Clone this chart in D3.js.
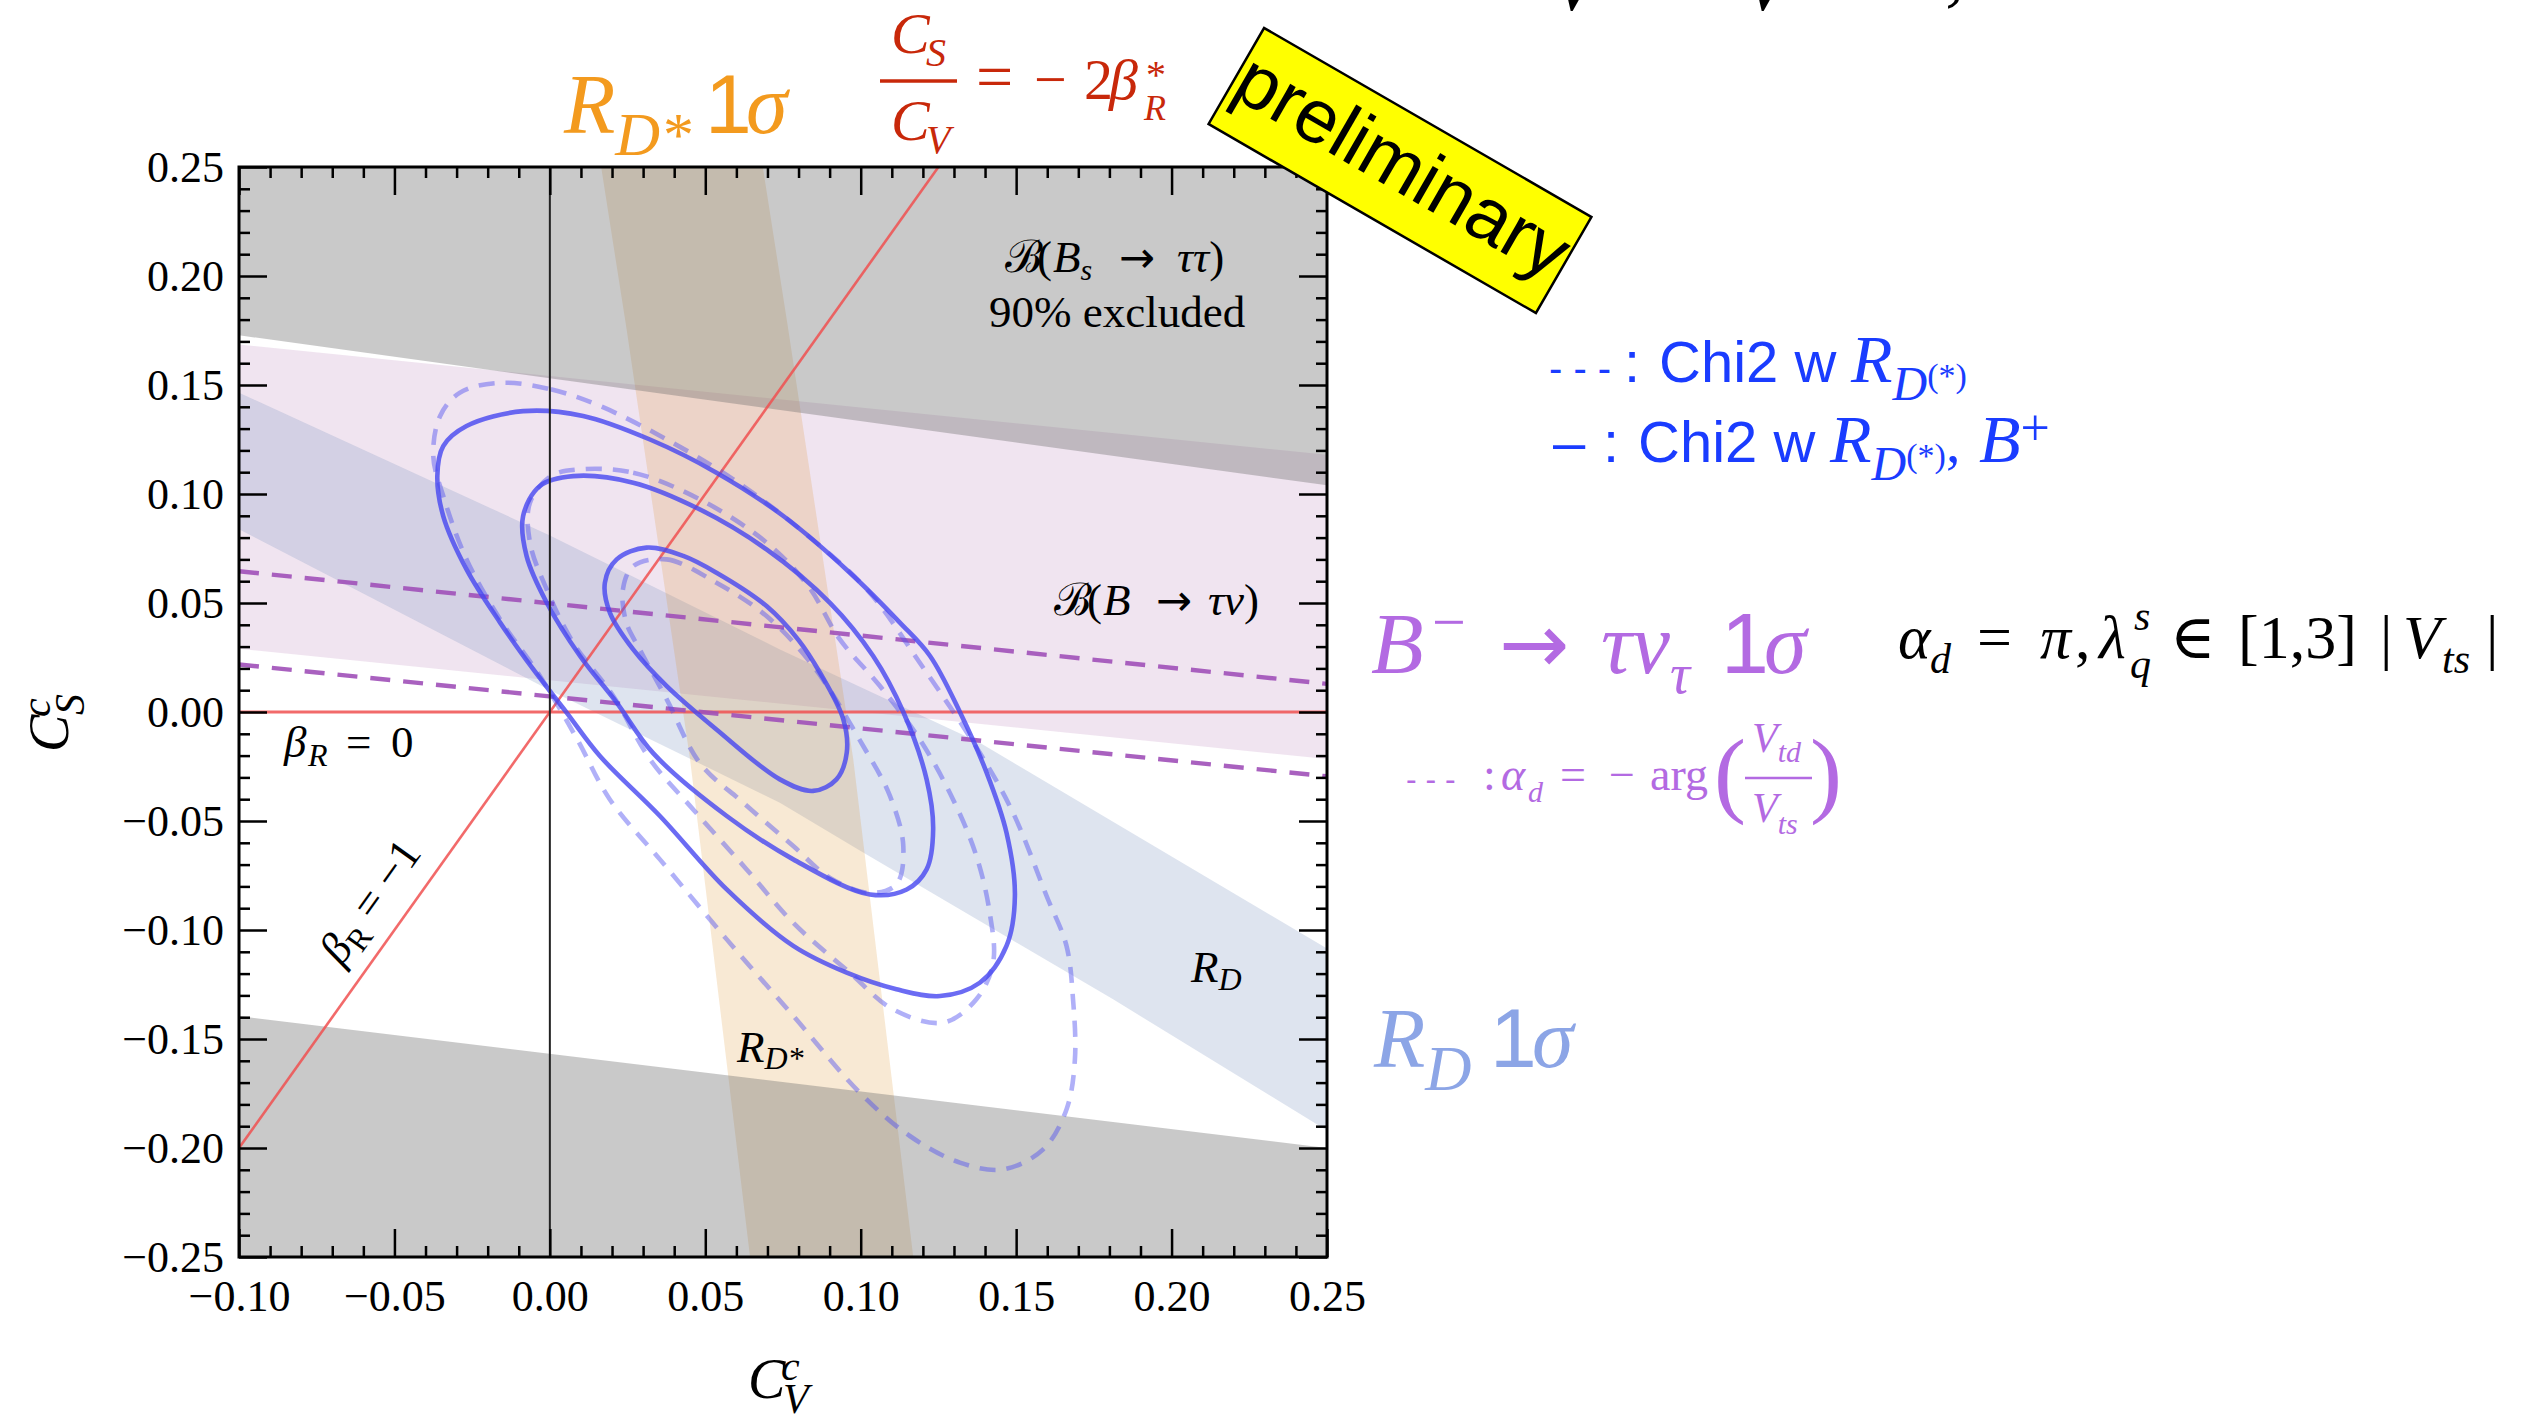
<!DOCTYPE html>
<html>
<head>
<meta charset="utf-8">
<script src="https://cdn.jsdelivr.net/npm/d3@7"></script>
<style>
  html, body { margin: 0; padding: 0; background: #fff; }
  svg { display: block; }
</style>
</head>
<body>
<svg id="chart" width="2534" height="1420"></svg>
<script>
// ---------- axis ticks ----------
const xMajorTicks = [-0.10, -0.05, 0.00, 0.05, 0.10, 0.15, 0.20, 0.25];
const yMajorTicks = [-0.25, -0.20, -0.15, -0.10, -0.05, 0.00, 0.05, 0.10, 0.15, 0.20, 0.25];
const minorStep = 0.01;

// ---------- constraint bands (C_V, C_S) ----------
// B_s -> tau tau 90% excluded: boundary of the upper and lower grey regions
const bsTauTauUpperEdge = [[-0.10, 0.1728], [0.25, 0.104]];
const bsTauTauLowerEdge = [[-0.10, -0.1395], [0.25, -0.200]];
// B -> tau nu 1 sigma band
const bTauNuUpper = [[-0.10, 0.1686], [0.25, 0.118]];
const bTauNuLower = [[-0.10, 0.029], [0.25, -0.0216]];
// R_D 1 sigma band
const rdUpper = [[-0.10, 0.1465], [0.00, 0.081], [0.074, 0.0287], [0.1383, -0.0141], [0.2413, -0.1012], [0.25, -0.1085]];
const rdLower = [[-0.10, 0.0838], [0.00, 0.010], [0.074, -0.0416], [0.1008, -0.0645], [0.1812, -0.1318], [0.25, -0.192]];
// R_D* 1 sigma band (left and right edges, top to bottom)
const rdStarLeft  = [[0.0165, 0.25], [0.0247, 0.1755], [0.0451, -0.0217], [0.0644, -0.25]];
const rdStarRight = [[0.0685, 0.25], [0.0767, 0.1755], [0.0976, -0.0217], [0.1169, -0.25]];

// alpha_d = -arg(V_td/V_ts) boundaries of B -> tau nu
const alphaDUpper = [[-0.10, 0.0646], [0.25, 0.0129]];
const alphaDLower = [[-0.10, 0.0218], [0.25, -0.0295]];

// reference lines
const betaR0Line  = [[-0.10, 0.0], [0.25, 0.0]];
const betaRm1Line = [[-0.10, -0.20], [0.125, 0.25]];
const cvZeroLine  = [[0.0, -0.25], [0.0, 0.25]];

// ---------- chi2 contours ----------
// with R_D(*) and B+ (solid)
const solidOuter = [[-0.0086,0.138],[0.0107,0.1358],[0.0322,0.125],[0.0536,0.1098],[0.0751,0.0899],[0.0965,0.0639],
  [0.1126,0.041],[0.1223,0.0257],[0.1319,0.0],[0.1405,-0.0278],[0.1469,-0.0554],[0.1496,-0.0844],[0.1469,-0.1073],
  [0.1383,-0.1242],[0.1255,-0.1303],[0.1115,-0.1272],[0.0955,-0.1196],[0.0783,-0.1073],[0.0569,-0.0814],[0.0354,-0.0477],
  [0.0161,-0.0202],[0.0054,-0.0003],[-0.0053,0.0195],[-0.016,0.041],[-0.0268,0.0654],[-0.0343,0.0899],[-0.0362,0.1083],
  [-0.0343,0.122],[-0.0268,0.1312]];
const solidMiddle = [[0.0075,0.1082],[0.0268,0.1052],[0.0483,0.0929],[0.0697,0.0746],[0.0901,0.0501],[0.104,0.0257],
  [0.1137,0.0],[0.1212,-0.0309],[0.1233,-0.0539],[0.1212,-0.0722],[0.1148,-0.0814],[0.103,-0.0837],[0.0783,-0.0676],
  [0.0569,-0.0477],[0.0333,-0.019],[0.0215,0.0043],[0.0097,0.0257],[-0.001,0.0501],[-0.0075,0.0716],[-0.0086,0.0899],
  [-0.0032,0.1037]];
const solidInner = [[0.0311,0.0754],[0.0429,0.0716],[0.0536,0.0639],[0.0697,0.0486],[0.080,0.033],[0.0869,0.018],
  [0.0944,-0.0034],[0.0955,-0.0187],[0.0922,-0.0309],[0.0847,-0.0362],[0.0740,-0.0309],[0.0536,-0.008],[0.0376,0.0119],
  [0.0268,0.0287],[0.0193,0.0456],[0.0177,0.0593],[0.0215,0.070]];
// with R_D(*) only (dashed)
const dashedOuter = [[-0.016,0.151],[0.0003,0.148],[0.0161,0.1404],[0.0376,0.125],[0.059,0.1067],[0.0805,0.0838],
  [0.102,0.0562],[0.119,0.0226],[0.1383,-0.0187],[0.149,-0.0462],[0.1598,-0.0844],[0.1662,-0.1073],[0.1683,-0.1318],
  [0.1689,-0.1594],[0.1662,-0.1823],[0.1587,-0.2006],[0.1458,-0.2098],[0.1319,-0.2067],[0.1158,-0.1945],[0.0997,-0.1746],
  [0.0783,-0.1394],[0.0569,-0.1043],[0.0354,-0.0676],[0.0193,-0.0401],[0.0086,-0.012],[-0.0032,0.0165],[-0.016,0.0425],
  [-0.0268,0.070],[-0.0343,0.0991],[-0.0375,0.1174],[-0.0353,0.1358],[-0.0289,0.1465]];
const dashedMiddle = [[0.0097,0.1113],[0.0268,0.1098],[0.0483,0.0975],[0.0697,0.0777],[0.0830,0.058],[0.0933,0.0333],
  [0.1062,0.0119],[0.119,-0.0126],[0.1297,-0.0401],[0.1372,-0.066],[0.1415,-0.0921],[0.1426,-0.115],[0.1372,-0.1318],
  [0.1265,-0.1425],[0.1104,-0.1364],[0.0965,-0.1196],[0.0783,-0.0967],[0.0633,-0.0722],[0.0461,-0.0447],[0.0322,-0.0217],
  [0.0204,0.0073],[0.0075,0.0318],[-0.001,0.0562],[-0.0064,0.0777],[-0.0064,0.096],[0.0003,0.1082]];
const dashedInner = [[0.0268,0.0669],[0.0376,0.070],[0.0536,0.0593],[0.0697,0.044],[0.0847,0.0211],[0.1008,-0.0156],
  [0.1094,-0.0385],[0.1137,-0.0615],[0.1115,-0.079],[0.103,-0.083],[0.090,-0.076],[0.0783,-0.0615],[0.0622,-0.0416],
  [0.0483,-0.0235],[0.0376,0.0058],[0.0289,0.0287],[0.0246,0.041],[0.0235,0.0562]];

// ---------- setup ----------
const SERIF = '"Liberation Serif","Times New Roman","DejaVu Serif",serif';
const SANS = '"Liberation Sans",Arial,"DejaVu Sans",sans-serif';
const ARROW = '"DejaVu Sans",sans-serif';
const svg = d3.select("#chart");
const x = d3.scaleLinear().domain([-0.1, 0.25]).range([239, 1327]);
const y = d3.scaleLinear().domain([-0.25, 0.25]).range([1257, 167]);

svg.append("defs").append("clipPath").attr("id", "plotClip").append("rect")
  .attr("x", x(-0.1)).attr("y", y(0.25))
  .attr("width", x(0.25) - x(-0.1)).attr("height", y(-0.25) - y(0.25));

const line = d3.line().x(d => x(d[0])).y(d => y(d[1]));
const closed = d3.line().x(d => x(d[0])).y(d => y(d[1])).curve(d3.curveCatmullRomClosed.alpha(0.5));
const band = (a, b) => line(a.concat(b.slice().reverse())) + "Z";

const plot = svg.append("g").attr("clip-path", "url(#plotClip)");

// bands
plot.append("path").attr("d", band(bTauNuUpper, bTauNuLower))
  .attr("fill", "rgb(155,75,155)").attr("fill-opacity", 0.15);
plot.append("path").attr("d", band(rdUpper, rdLower))
  .attr("fill", "rgb(123,147,191)").attr("fill-opacity", 0.25);
plot.append("path").attr("d", band(rdStarLeft, rdStarRight))
  .attr("fill", "rgb(220,145,40)").attr("fill-opacity", 0.2);

// excluded regions
plot.append("path").attr("d", line(bsTauTauUpperEdge.concat([[0.25, 0.25], [-0.1, 0.25]])) + "Z")
  .attr("fill", "rgb(109,109,109)").attr("fill-opacity", 0.37);
plot.append("path").attr("d", line(bsTauTauLowerEdge.concat([[0.25, -0.25], [-0.1, -0.25]])) + "Z")
  .attr("fill", "rgb(109,109,109)").attr("fill-opacity", 0.37);

// beta_R lines
[betaR0Line, betaRm1Line].forEach((l, i) => {
  plot.append("path").attr("d", line(l)).attr("fill", "none")
    .attr("stroke", "#f05050").attr("stroke-opacity", 0.85).attr("stroke-width", i === 0 ? 3.2 : 2.6);
});

// alpha_d dashed lines
[alphaDUpper, alphaDLower].forEach(l => {
  plot.append("path").attr("d", line(l)).attr("fill", "none")
    .attr("stroke", "#a050b8").attr("stroke-opacity", 0.9)
    .attr("stroke-width", 4.4).attr("stroke-dasharray", "20 13");
});

// contours
[dashedOuter, dashedMiddle, dashedInner].forEach(c => {
  plot.append("path").attr("d", closed(c)).attr("fill", "none")
    .attr("stroke", "rgb(80,80,240)").attr("stroke-opacity", 0.45)
    .attr("stroke-width", 4.6).attr("stroke-dasharray", "16 11");
});
[solidOuter, solidMiddle, solidInner].forEach(c => {
  plot.append("path").attr("d", closed(c)).attr("fill", "none")
    .attr("stroke", "rgb(70,70,240)").attr("stroke-opacity", 0.8).attr("stroke-width", 4.6);
});

// C_V = 0 line
plot.append("path").attr("d", line(cvZeroLine)).attr("stroke", "#222").attr("stroke-width", 2);

// ---------- axes ----------
const fmt = d3.format(".2f");
const minorX = d3.range(-10, 26).map(i => i * minorStep).filter(v => !xMajorTicks.some(t => Math.abs(t - v) < 1e-9));
const minorY = d3.range(-25, 26).map(i => i * minorStep).filter(v => !yMajorTicks.some(t => Math.abs(t - v) < 1e-9));

function styleAxis(g) {
  g.select(".domain").remove();
  g.selectAll(".tick line").attr("stroke", "#000").attr("stroke-width", 2.5);
  g.selectAll("text").attr("font-family", SERIF).attr("font-size", 44).attr("fill", "#000");
}
const axes = svg.append("g");
const bottomY = y(-0.25), topY = y(0.25), leftX = x(-0.1), rightX = x(0.25);
axes.append("g").attr("transform", `translate(0,${bottomY})`)
  .call(d3.axisBottom(x).tickValues(xMajorTicks).tickSize(-28).tickPadding(23).tickFormat(fmt)).call(styleAxis);
axes.append("g").attr("transform", `translate(0,${bottomY})`)
  .call(d3.axisBottom(x).tickValues(minorX).tickSize(-11).tickFormat(() => "")).call(styleAxis);
axes.append("g").attr("transform", `translate(0,${topY})`)
  .call(d3.axisTop(x).tickValues(xMajorTicks).tickSize(-28).tickFormat(() => "")).call(styleAxis);
axes.append("g").attr("transform", `translate(0,${topY})`)
  .call(d3.axisTop(x).tickValues(minorX).tickSize(-11).tickFormat(() => "")).call(styleAxis);
axes.append("g").attr("transform", `translate(${leftX},0)`)
  .call(d3.axisLeft(y).tickValues(yMajorTicks).tickSize(-28).tickPadding(15).tickFormat(fmt)).call(styleAxis);
axes.append("g").attr("transform", `translate(${leftX},0)`)
  .call(d3.axisLeft(y).tickValues(minorY).tickSize(-11).tickFormat(() => "")).call(styleAxis);
axes.append("g").attr("transform", `translate(${rightX},0)`)
  .call(d3.axisRight(y).tickValues(yMajorTicks).tickSize(-28).tickFormat(() => "")).call(styleAxis);
axes.append("g").attr("transform", `translate(${rightX},0)`)
  .call(d3.axisRight(y).tickValues(minorY).tickSize(-11).tickFormat(() => "")).call(styleAxis);
axes.append("rect").attr("x", leftX).attr("y", topY)
  .attr("width", rightX - leftX).attr("height", bottomY - topY)
  .attr("fill", "none").attr("stroke", "#000").attr("stroke-width", 3);

// ---------- text helper ----------
function mtext(parent, px, py, parts, opt) {
  const t = parent.append("text").attr("x", px).attr("y", py)
    .attr("font-family", opt.ff || SERIF).attr("font-size", opt.size)
    .attr("fill", opt.fill || "#000").style("white-space", "pre");
  if (opt.anchor) t.attr("text-anchor", opt.anchor);
  if (opt.transform) t.attr("transform", opt.transform);
  let cur = 0;
  parts.forEach(p => {
    const s = t.append("tspan").text(p.t);
    const sh = p.sh || 0;
    if (sh !== cur) { s.attr("dy", sh - cur); cur = sh; }
    if (p.x !== undefined) s.attr("x", p.x);
    if (p.s) s.attr("font-size", p.s);
    if (p.i) s.attr("font-style", "italic");
    if (p.f) s.attr("font-family", p.f);
  });
  return t;
}
const labels = svg.append("g");

// axis titles
mtext(labels, 748, 1398, [{t: "C", i: 1}, {t: "c", i: 1, s: 42, sh: -18, x: 781}, {t: "V", i: 1, s: 42, sh: 15, x: 783}], {size: 56});
mtext(labels, 0, 0, [{t: "C", i: 1}, {t: "c", i: 1, s: 42, sh: -18, x: 35}, {t: "S", i: 1, s: 42, sh: 16, x: 37}],
  {size: 56, transform: "translate(68,752) rotate(-90)"});

// in-plot labels
mtext(labels, 1005, 272, [{t: "ℬ"}, {t: "(", x: 1037}, {t: "B", i: 1, x: 1053}, {t: "s", i: 1, s: 30, sh: 8},
  {t: "→", sh: 0, x: 1119, f: ARROW, s: 43}, {t: "ττ", i: 1, x: 1177}, {t: ")"}], {size: 45});
mtext(labels, 989, 327, [{t: "90% excluded"}], {size: 45});
mtext(labels, 1054, 615, [{t: "ℬ"}, {t: "(", x: 1087}, {t: "B", i: 1, x: 1103}, {t: "→", x: 1156, f: ARROW, s: 43},
  {t: "τν", i: 1, x: 1208}, {t: ")"}], {size: 45});
mtext(labels, 284, 757, [{t: "β", i: 1}, {t: "R", i: 1, s: 32, sh: 9, x: 308}, {t: "=", sh: 0, x: 346}, {t: "0", x: 391}], {size: 45});
mtext(labels, 0, 0, [{t: "β", i: 1}, {t: "R", s: 32, sh: 9}, {t: " = −1", sh: 0}],
  {size: 45, anchor: "middle", transform: "translate(382,910) rotate(-54.5)"});
mtext(labels, 737, 1062, [{t: "R", i: 1}, {t: "D*", i: 1, s: 32, sh: 7}], {size: 45});
mtext(labels, 1191, 982, [{t: "R", i: 1}, {t: "D", i: 1, s: 32, sh: 8}], {size: 45});

// top annotations
mtext(labels, 564, 133, [{t: "R", i: 1}, {t: "D*", i: 1, s: 62, sh: 22}, {t: "1", f: SANS, x: 705, sh: 0}, {t: "σ", i: 1, x: 746}],
  {size: 84, fill: "#f39a1e"});
const RED = "#c8280a";
mtext(labels, 891, 53, [{t: "C", i: 1}, {t: "S", i: 1, s: 40, sh: 13, x: 926}], {size: 58, fill: RED});
labels.append("line").attr("x1", 880).attr("x2", 957).attr("y1", 81).attr("y2", 81).attr("stroke", RED).attr("stroke-width", 3.5);
mtext(labels, 891, 140, [{t: "C", i: 1}, {t: "V", i: 1, s: 40, sh: 13, x: 926}], {size: 58, fill: RED});
mtext(labels, 976, 99, [{t: "=", s: 66}, {t: "−", x: 1034}, {t: "2", x: 1084}, {t: "β", i: 1, x: 1109}], {size: 58, fill: RED});
mtext(labels, 1146, 88, [{t: "*"}], {size: 40, fill: RED});
mtext(labels, 1144, 120, [{t: "R", i: 1}], {size: 36, fill: RED});

// cut-off text at the page top
mtext(labels, 1550, 10, [{t: "V", i: 1}], {size: 80});
mtext(labels, 1741, 10, [{t: "V", i: 1}], {size: 80});
mtext(labels, 1945, -4, [{t: ","}], {size: 80});

// preliminary tag
const tag = svg.append("g").attr("transform", "translate(1400,170.5) rotate(30)");
tag.append("rect").attr("x", -189).attr("y", -55.5).attr("width", 378).attr("height", 111)
  .attr("fill", "#ffff00").attr("stroke", "#000").attr("stroke-width", 2.5);
tag.append("text").attr("x", 0).attr("y", 20).attr("text-anchor", "middle")
  .attr("font-family", SANS).attr("font-size", 76).attr("fill", "#000").text("preliminary");

// legend
const BLUE = "#1a3cff";
mtext(labels, 1549, 382, [{t: "- - -", s: 40, f: SANS}, {t: ":", x: 1624, f: SANS}, {t: "Chi2 w", x: 1659, f: SANS},
  {t: "R", x: 1851, i: 1, s: 68}, {t: "D", i: 1, s: 48, sh: 18}, {t: "(*)", s: 34, sh: 5}], {size: 58, fill: BLUE});
mtext(labels, 1553, 462, [{t: "–", f: SANS}, {t: ":", x: 1603, f: SANS}, {t: "Chi2 w", x: 1638, f: SANS},
  {t: "R", x: 1830, i: 1, s: 68}, {t: "D", i: 1, s: 48, sh: 18}, {t: "(*)", s: 34, sh: 5}, {t: ",", sh: 0},
  {t: "B", x: 1979, i: 1, s: 68}, {t: "+", s: 52, sh: -17}], {size: 58, fill: BLUE});

// B -> tau nu label
const PURPLE = "#b36ae2";
mtext(labels, 1371, 673, [{t: "B", i: 1}, {t: "−", s: 60, sh: -31, x: 1432}, {t: "→", x: 1499, sh: 0, f: ARROW, s: 84},
  {t: "τν", i: 1, x: 1601}, {t: "τ", i: 1, s: 56, sh: 20}, {t: "1", f: SANS, x: 1721, sh: 0}, {t: "σ", i: 1, x: 1764}],
  {size: 86, fill: PURPLE});
mtext(labels, 1898, 658, [{t: "α", i: 1}, {t: "d", i: 1, s: 42, sh: 15, x: 1930}, {t: "=", sh: 0, x: 1977},
  {t: "π", i: 1, x: 2040}, {t: ",", x: 2075}, {t: "λ", i: 1, x: 2099}, {t: "s", i: 1, s: 42, sh: -28, x: 2134},
  {t: "q", i: 1, s: 42, sh: 20, x: 2130}, {t: "∈", sh: 0, x: 2170}, {t: "[1,3]", x: 2238}, {t: "|", x: 2380},
  {t: "V", i: 1, x: 2403}, {t: "ts", i: 1, s: 42, sh: 15, x: 2442}, {t: "|", sh: 0, x: 2486}], {size: 62});
mtext(labels, 1406, 790, [{t: "- - -", s: 32, f: SANS}, {t: ":", x: 1483}, {t: "α", i: 1, x: 1501},
  {t: "d", i: 1, s: 30, sh: 12, x: 1528}, {t: "=", sh: 0, x: 1560}, {t: "−", x: 1609}, {t: "arg", x: 1650}],
  {size: 46, fill: PURPLE});
mtext(labels, 1714, 805, [{t: "("}], {size: 96, fill: PURPLE});
mtext(labels, 1810, 805, [{t: ")"}], {size: 96, fill: PURPLE});
mtext(labels, 1752, 752, [{t: "V", i: 1}, {t: "td", i: 1, s: 30, sh: 10}], {size: 42, fill: PURPLE});
labels.append("line").attr("x1", 1745).attr("x2", 1812).attr("y1", 778).attr("y2", 778).attr("stroke", PURPLE).attr("stroke-width", 2.5);
mtext(labels, 1752, 822, [{t: "V", i: 1}, {t: "ts", i: 1, s: 30, sh: 12}], {size: 42, fill: PURPLE});

// R_D label
mtext(labels, 1374, 1067, [{t: "R", i: 1}, {t: "D", i: 1, s: 64, sh: 23}, {t: "1", f: SANS, x: 1490, sh: 0}, {t: "σ", i: 1, x: 1532}],
  {size: 84, fill: "#8ca5e6"});
</script>
</body>
</html>
